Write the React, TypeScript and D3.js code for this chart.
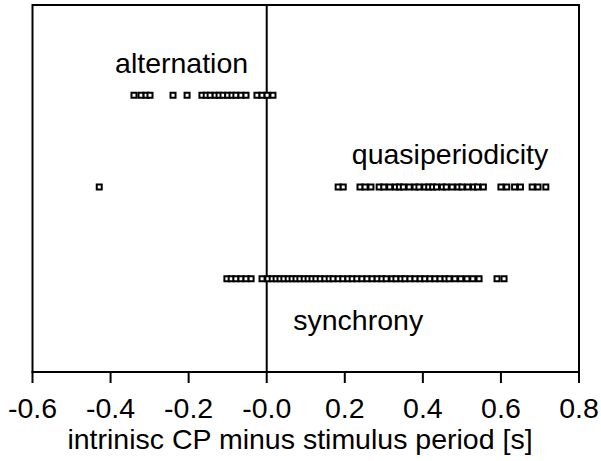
import React from "react";
import * as d3 from "d3";

const categories = ["alternation", "quasiperiodicity", "synchrony"];
const rowIndex = [3, 2, 1];

const alternation = [
  -0.340, -0.322, -0.309, -0.299, -0.240, -0.204,
  -0.166, -0.155, -0.145, -0.132, -0.122, -0.112, -0.100, -0.089, -0.079, -0.066, -0.053,
  -0.025, -0.012, 0.001, 0.016,
];

const quasiperiodicity = [
  -0.429, 0.183, 0.196, 0.239, 0.252, 0.267, 0.288,
  0.30, 0.315, 0.33, 0.34, 0.35, 0.365, 0.38, 0.39, 0.405, 0.415,
  0.425, 0.435, 0.45, 0.46, 0.475, 0.49, 0.50, 0.515, 0.53, 0.54, 0.555,
  0.60, 0.615, 0.635, 0.65,
  0.68, 0.695, 0.715,
];

const synchrony = [
  -0.102, -0.091, -0.079, -0.066, -0.053, -0.040, -0.012,
  0.003, 0.014, 0.024, 0.034, 0.044, 0.055, 0.065, 0.075, 0.085, 0.096, 0.106, 0.116, 0.126, 0.137, 0.149,
  0.160, 0.170, 0.183, 0.195, 0.208, 0.219, 0.231, 0.244, 0.257, 0.270, 0.283, 0.295, 0.306,
  0.321, 0.331, 0.344, 0.354, 0.367, 0.380, 0.393, 0.405, 0.418, 0.431, 0.444, 0.457,
  0.467, 0.482, 0.497, 0.513, 0.528, 0.544, 0.590, 0.608,
];

const series = [alternation, quasiperiodicity, synchrony];

const xTicks = [-0.6, -0.4, -0.2, 0.0, 0.2, 0.4, 0.6, 0.8];
const xTickLabels = ["-0.6", "-0.4", "-0.2", "-0.0", "0.2", "0.4", "0.6", "0.8"];
const xTitle = "intrinisc CP minus stimulus period [s]";

export default function App() {
  const W = 601, H = 461;
  const left = 32.5, right = 579, top = 5, bottom = 372;
  const x = d3.scaleLinear().domain([-0.6, 0.8]).range([left, right]);
  const y = d3.scaleLinear().domain([0, 4]).range([bottom, top]);
  const font = "'Liberation Sans', Arial, sans-serif";
  const fs = 28.5;
  const sq = 5;

  const labels = [
    { text: categories[0], x: x(-0.218), dy: -24, anchor: "middle" },
    { text: categories[1], x: x(0.218), dy: -25, anchor: "start" },
    { text: categories[2], x: x(0.068), dy: 50, anchor: "start" },
  ];

  return (
    <svg width={W} height={H} style={{ position: "absolute", left: 0, top: 0, background: "#fff" }}>
      <rect x={0} y={0} width={W} height={H} fill="#fff" />
      <path
        d={`M${left},${bottom}V${top}H${right}V${bottom}`}
        fill="none"
        stroke="#000"
        strokeWidth={2}
      />
      <line x1={left - 1} x2={right + 1} y1={bottom} y2={bottom} stroke="#000" strokeWidth={2} />
      <line x1={x(0)} x2={x(0)} y1={top} y2={bottom} stroke="#000" strokeWidth={2} />
      {xTicks.map((t, i) => (
        <g key={i}>
          <line x1={x(t)} x2={x(t)} y1={bottom} y2={bottom + 11} stroke="#000" strokeWidth={2} />
          <text x={x(t)} y={418} textAnchor="middle" fontFamily={font} fontSize={fs} fill="#000">
            {xTickLabels[i]}
          </text>
        </g>
      ))}
      <text x={300} y={449} textAnchor="middle" fontFamily={font} fontSize={fs} fill="#000">
        {xTitle}
      </text>
      {series.map((vals, si) =>
        vals.map((v, i) => (
          <rect
            key={`${si}-${i}`}
            x={x(v) - sq / 2}
            y={y(rowIndex[si]) - 1.5 - sq / 2}
            width={sq}
            height={sq}
            fill="#fff"
            stroke="#000"
            strokeWidth={2}
          />
        ))
      )}
      {labels.map((l, i) => (
        <text
          key={i}
          x={l.x}
          y={y(rowIndex[i]) + l.dy}
          textAnchor={l.anchor as any}
          fontFamily={font}
          fontSize={fs}
          fill="#000"
        >
          {l.text}
        </text>
      ))}
    </svg>
  );
}
